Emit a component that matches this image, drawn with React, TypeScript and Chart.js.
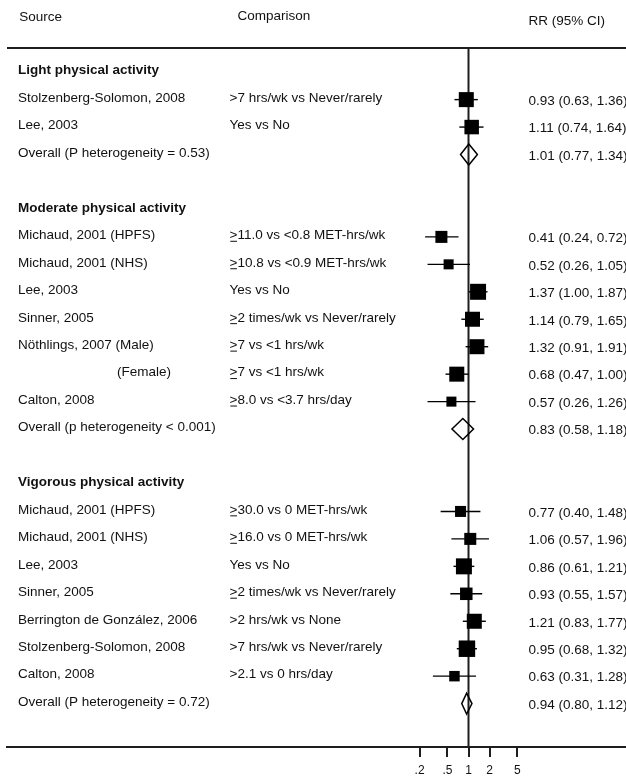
import React, { useEffect, useRef } from 'react';
import { Chart, registerables } from 'chart.js';

Chart.register(...registerables);

// ---------- data ----------
const headerLabels = ['Source', 'Comparison', 'RR (95% CI)'];
const groupTitles = ['Light physical activity', 'Moderate physical activity', 'Vigorous physical activity'];

const lightSources = ['Stolzenberg-Solomon, 2008', 'Lee, 2003'];
const lightComparisons = ['>7 hrs/wk vs Never/rarely', 'Yes vs No'];
const lightRR = [0.93, 1.11];
const lightLower = [0.63, 0.74];
const lightUpper = [1.36, 1.64];
const lightWeights = [19.5, 18.2];

const moderateSources = [
  'Michaud, 2001 (HPFS)',
  'Michaud, 2001 (NHS)',
  'Lee, 2003',
  'Sinner, 2005',
  'Nöthlings, 2007 (Male)',
  '(Female)',
  'Calton, 2008',
];
const moderateComparisons = [
  '≥11.0 vs <0.8 MET-hrs/wk',
  '≥10.8 vs <0.9 MET-hrs/wk',
  'Yes vs No',
  '≥2 times/wk vs Never/rarely',
  '≥7 vs <1 hrs/wk',
  '≥7 vs <1 hrs/wk',
  '≥8.0 vs <3.7 hrs/day',
];
const moderateRR = [0.41, 0.52, 1.37, 1.14, 1.32, 0.68, 0.57];
const moderateLower = [0.24, 0.26, 1.0, 0.79, 0.91, 0.47, 0.26];
const moderateUpper = [0.72, 1.05, 1.87, 1.65, 1.91, 1.0, 1.26];
const moderateWeights = [12.5, 8.7, 22.1, 19.5, 19.5, 19.5, 8.7];

const vigorousSources = [
  'Michaud, 2001 (HPFS)',
  'Michaud, 2001 (NHS)',
  'Lee, 2003',
  'Sinner, 2005',
  'Berrington de González, 2006',
  'Stolzenberg-Solomon, 2008',
  'Calton, 2008',
];
const vigorousComparisons = [
  '≥30.0 vs 0 MET-hrs/wk',
  '≥16.0 vs 0 MET-hrs/wk',
  'Yes vs No',
  '≥2 times/wk vs Never/rarely',
  '>2 hrs/wk vs None',
  '>7 hrs/wk vs Never/rarely',
  '>2.1 vs 0 hrs/day',
];
const vigorousRR = [0.77, 1.06, 0.86, 0.93, 1.21, 0.95, 0.63];
const vigorousLower = [0.4, 0.57, 0.61, 0.55, 0.83, 0.68, 0.31];
const vigorousUpper = [1.48, 1.96, 1.21, 1.57, 1.77, 1.32, 1.28];
const vigorousWeights = [10.5, 12.5, 22.1, 13.5, 19.5, 23.5, 9.5];

const overallLabels = [
  'Overall (P heterogeneity = 0.53)',
  'Overall (p heterogeneity < 0.001)',
  'Overall (P heterogeneity = 0.72)',
];
const overallRR = [1.01, 0.83, 0.94];
const overallLower = [0.77, 0.58, 0.8];
const overallUpper = [1.34, 1.18, 1.12];

const tickValues = [0.2, 0.5, 1, 2, 5];
const tickLabels = ['.2', '.5', '1', '2', '5'];

// ---------- rows ----------
type Row = {
  kind: 'group' | 'study' | 'overall';
  row: number;
  label: string;
  comparison?: string;
  rr?: number;
  lo?: number;
  hi?: number;
  weight?: number;
};

const groupData = [
  { s: lightSources, c: lightComparisons, rr: lightRR, lo: lightLower, hi: lightUpper, w: lightWeights },
  { s: moderateSources, c: moderateComparisons, rr: moderateRR, lo: moderateLower, hi: moderateUpper, w: moderateWeights },
  { s: vigorousSources, c: vigorousComparisons, rr: vigorousRR, lo: vigorousLower, hi: vigorousUpper, w: vigorousWeights },
];

const rows: Row[] = [];
{
  let r = 0;
  groupData.forEach((g, gi) => {
    rows.push({ kind: 'group', row: r, label: groupTitles[gi] });
    g.s.forEach((s, i) =>
      rows.push({
        kind: 'study',
        row: r + 1 + i,
        label: s,
        comparison: g.c[i],
        rr: g.rr[i],
        lo: g.lo[i],
        hi: g.hi[i],
        weight: g.w[i],
      })
    );
    const o = r + g.s.length + 1;
    rows.push({ kind: 'overall', row: o, label: overallLabels[gi], rr: overallRR[gi], lo: overallLower[gi], hi: overallUpper[gi] });
    r = o + 2;
  });
}
const studyRows = rows.filter((r) => r.kind === 'study');

const FONT = '"Liberation Sans", Arial, Helvetica, sans-serif';
const INK = '#111';
const LINE = '#1e1e1e';

const fmt = (v: number) => v.toFixed(2);

const forestPlugin = {
  id: 'forest',
  beforeDatasetsDraw(chart: any) {
    const { ctx, chartArea } = chart;
    const xs = chart.scales.x;
    const ys = chart.scales.y;
    ctx.save();
    // top rule
    ctx.strokeStyle = LINE;
    ctx.lineWidth = 2;
    ctx.beginPath();
    ctx.moveTo(chartArea.left, chartArea.top);
    ctx.lineTo(chartArea.right, chartArea.top);
    ctx.stroke();
    // reference line at RR = 1
    const x1 = xs.getPixelForValue(1);
    ctx.beginPath();
    ctx.moveTo(x1, chartArea.top);
    ctx.lineTo(x1, chartArea.bottom);
    ctx.stroke();
    // CI lines
    ctx.lineWidth = 1.4;
    ctx.strokeStyle = '#000';
    studyRows.forEach((r) => {
      const y = ys.getPixelForValue(r.row);
      ctx.beginPath();
      ctx.moveTo(xs.getPixelForValue(r.lo), y);
      ctx.lineTo(xs.getPixelForValue(r.hi), y);
      ctx.stroke();
    });
    // diamonds
    ctx.lineWidth = 1.5;
    rows
      .filter((r) => r.kind === 'overall')
      .forEach((r) => {
        const y = ys.getPixelForValue(r.row);
        const xl = xs.getPixelForValue(r.lo);
        const xm = xs.getPixelForValue(r.rr);
        const xr = xs.getPixelForValue(r.hi);
        const h = 10.5;
        ctx.beginPath();
        ctx.moveTo(xl, y);
        ctx.lineTo(xm, y - h);
        ctx.lineTo(xr, y);
        ctx.lineTo(xm, y + h);
        ctx.closePath();
        ctx.stroke();
      });
    ctx.restore();
  },
  afterDraw(chart: any) {
    const { ctx } = chart;
    const ys = chart.scales.y;
    ctx.save();
    ctx.fillStyle = INK;
    ctx.textBaseline = 'alphabetic';
    ctx.textAlign = 'left';
    const capHalf = 4.8;
    const text = (t: string, x: number, cy: number, bold = false) => {
      ctx.font = `${bold ? 'bold ' : ''}13.5px ${FONT}`;
      ctx.fillText(t, x, cy + capHalf);
    };
    const cmpText = (t: string, x: number, cy: number) => {
      ctx.font = `13.5px ${FONT}`;
      const base = cy + capHalf;
      if (t.startsWith('≥')) {
        ctx.fillText('>', x, base);
        const w = ctx.measureText('>').width;
        ctx.fillRect(x + 0.8, base + 1.6, w - 1.2, 1);
        ctx.fillText(t.slice(1), x + w, base);
      } else {
        ctx.fillText(t, x, base);
      }
    };
    // headers
    text(headerLabels[0], 19.3, 16);
    text(headerLabels[1], 237.5, 15.5);
    text(headerLabels[2], 528.5, 20);

    rows.forEach((r) => {
      const y = ys.getPixelForValue(r.row);
      const yl = y - 2.5;
      if (r.kind === 'group') {
        text(r.label, 18, yl, true);
        return;
      }
      const lx = r.label.startsWith('(') ? 117 : 18;
      text(r.label, lx, yl);
      if (r.comparison) cmpText(r.comparison, 229.5, yl);
      text(`${fmt(r.rr as number)} (${fmt(r.lo as number)}, ${fmt(r.hi as number)})`, 528.5, y + 0.5);
    });
    ctx.restore();
  },
};

export default function App() {
  const ref = useRef<HTMLCanvasElement | null>(null);

  useEffect(() => {
    if (!ref.current) return;
    const left = 7;
    const right = 626;
    const one = 468.5;
    const pxPerDecade = 70;
    const xMin = Math.pow(10, -(one - left) / pxPerDecade);
    const xMax = Math.pow(10, (right - one) / pxPerDecade);

    const chart = new Chart(ref.current, {
      type: 'scatter',
      data: {
        datasets: [
          {
            data: studyRows.map((r) => ({ x: r.rr as number, y: r.row })),
            pointStyle: 'rect',
            pointRadius: studyRows.map((r) => (3.4 * Math.sqrt(r.weight as number)) / Math.SQRT2),
            pointHoverRadius: studyRows.map((r) => (3.4 * Math.sqrt(r.weight as number)) / Math.SQRT2),
            pointBackgroundColor: '#000',
            pointBorderWidth: 0,
            pointHoverBorderWidth: 0,
            showLine: false,
          },
        ],
      },
      options: {
        responsive: false,
        animation: false,
        devicePixelRatio: 1,
        layout: { autoPadding: false, padding: { left, right: 0, top: 48, bottom: 0 } },
        plugins: { legend: { display: false }, tooltip: { enabled: false } },
        events: [],
        scales: {
          x: {
            type: 'logarithmic',
            position: 'bottom',
            min: xMin,
            max: xMax,
            bounds: 'data',
            afterBuildTicks: (scale: any) => {
              scale.ticks = tickValues.map((v) => ({ value: v, major: false }));
            },
            afterFit: (scale: any) => {
              scale.height = 32;
              scale.paddingLeft = 0;
              scale.paddingRight = 0;
              scale.paddingTop = 0;
              scale.paddingBottom = 0;
            },
            ticks: {
              autoSkip: false,
              maxRotation: 0,
              minRotation: 0,
              padding: 6,
              color: INK,
              font: { family: FONT, size: 12 },
              callback: (value: any) => {
                const i = tickValues.indexOf(Number(value));
                return i >= 0 ? tickLabels[i] : '';
              },
            },
            grid: {
              drawOnChartArea: false,
              drawTicks: true,
              tickLength: 10,
              lineWidth: 2,
              color: LINE,
            },
            border: { display: true, color: LINE, width: 2 },
          },
          y: {
            type: 'linear',
            display: false,
            reverse: true,
            min: -0.88,
            max: 24.58,
          },
        },
      } as any,
      plugins: [forestPlugin],
    });
    return () => chart.destroy();
  }, []);

  return (
    <div
      style={{
        position: 'fixed',
        left: 0,
        top: 0,
        width: 626,
        height: 779,
        overflow: 'hidden',
        background: '#fff',
      }}
    >
      <canvas ref={ref} width={626} height={779} style={{ display: 'block' }} />
    </div>
  );
}
